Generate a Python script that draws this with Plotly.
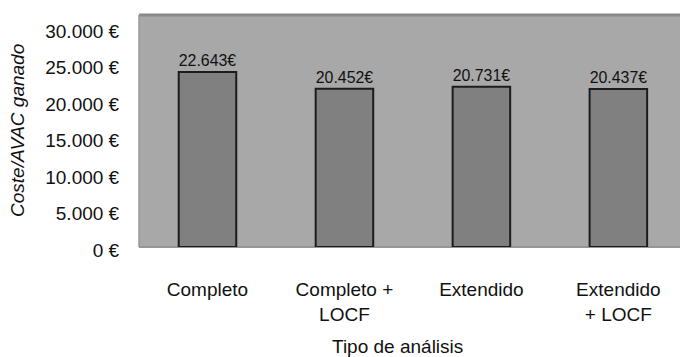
import plotly.graph_objects as go

# Cost per QALY gained for each type of analysis
categories = ["Completo", "Completo +<br>LOCF", "Extendido", "Extendido<br>+ LOCF"]
costs = [22643, 20452, 20731, 20437]
tick_values = [0, 5000, 10000, 15000, 20000, 25000, 30000]


def euro(v, space=True):
    s = f"{v:,}".replace(",", ".")
    return s + (" €" if space else "€")


tick_text = [euro(v) for v in tick_values]
bar_text = [euro(v, space=False) for v in costs]

FONT = "Arial, 'Liberation Sans', sans-serif"
W, H = 680, 357
M_L, M_R, M_T, M_B = 139, 0, 15, 100
paper_h = H - M_T - M_B


def frac_y(py):
    """Pixel row -> paper fraction."""
    return (H - M_B - py) / paper_h


def frac_x(px):
    return (px - M_L) / (W - M_L - M_R)


fig = go.Figure()
fig.add_trace(go.Bar(
    x=list(range(len(categories))),
    y=costs,
    marker=dict(color="#808080", line=dict(color="#1c1c1c", width=2)),
    text=bar_text,
    textposition="outside",
    textfont=dict(family=FONT, size=16.5, color="#111111"),
    cliponaxis=False,
    hoverinfo="skip",
    xaxis="x", yaxis="y",
))
# Empty trace so the value scale axis is drawn
fig.add_trace(go.Scatter(
    x=[0], y=[0], mode="markers", marker=dict(opacity=0),
    hoverinfo="skip", showlegend=False,
    xaxis="x", yaxis="y2",
))

fig.update_layout(
    width=W, height=H,
    margin=dict(l=M_L, r=M_R, t=M_T, b=M_B),
    paper_bgcolor="white",
    plot_bgcolor="rgba(0,0,0,0)",
    bargap=0.58,
    showlegend=False,
    font=dict(family=FONT, color="#111111"),
    xaxis=dict(
        range=[-0.5, 3.45],
        tickvals=list(range(len(categories))),
        ticktext=categories,
        tickfont=dict(size=19, color="#111111"),
        ticks="outside", ticklen=25, tickcolor="rgba(0,0,0,0)",
        showgrid=False, zeroline=False, showline=False,
        anchor="y",
        fixedrange=True,
    ),
    yaxis=dict(
        range=[0, 30000],
        domain=[frac_y(247), 1.0],
        showticklabels=False, ticks="",
        showgrid=False, zeroline=False, showline=False,
        fixedrange=True,
    ),
    # Value scale shown on the left of the plot area
    yaxis2=dict(
        range=[0, 30000],
        domain=[frac_y(250), frac_y(31)],
        anchor="free", position=0,
        tickvals=tick_values,
        ticktext=tick_text,
        tickfont=dict(size=19, color="#111111"),
        ticks="outside", ticklen=16, tickcolor="rgba(0,0,0,0)",
        showgrid=False, zeroline=False, showline=False,
        fixedrange=True,
    ),
    shapes=[
        # grey plot area
        dict(type="rect", xref="x domain", yref="y domain",
             x0=0, x1=1, y0=0, y1=1, layer="below",
             fillcolor="#a8a8a8", line=dict(width=0)),
        dict(type="line", xref="x domain", yref="y domain",
             x0=0, x1=1, y0=1, y1=1, layer="below",
             line=dict(color="#8a8a8a", width=3)),
        dict(type="line", xref="x domain", yref="y domain",
             x0=0, x1=0, y0=0, y1=1, layer="below",
             line=dict(color="#989898", width=1.5)),
        dict(type="line", xref="x domain", yref="y domain",
             x0=0, x1=1, y0=0, y1=0, layer="below",
             line=dict(color="#969696", width=2)),
    ],
    annotations=[
        dict(text="<i>Coste/AVAC ganado</i>", textangle=-90,
             xref="paper", yref="paper",
             x=frac_x(17), y=frac_y(131),
             xanchor="center", yanchor="middle",
             showarrow=False,
             font=dict(family=FONT, size=19, color="#111111")),
        dict(text="Tipo de análisis",
             xref="paper", yref="paper",
             x=frac_x(397), y=frac_y(346),
             xanchor="center", yanchor="middle",
             showarrow=False,
             font=dict(family=FONT, size=19, color="#111111")),
    ],
)

fig.write_html("out.html")
